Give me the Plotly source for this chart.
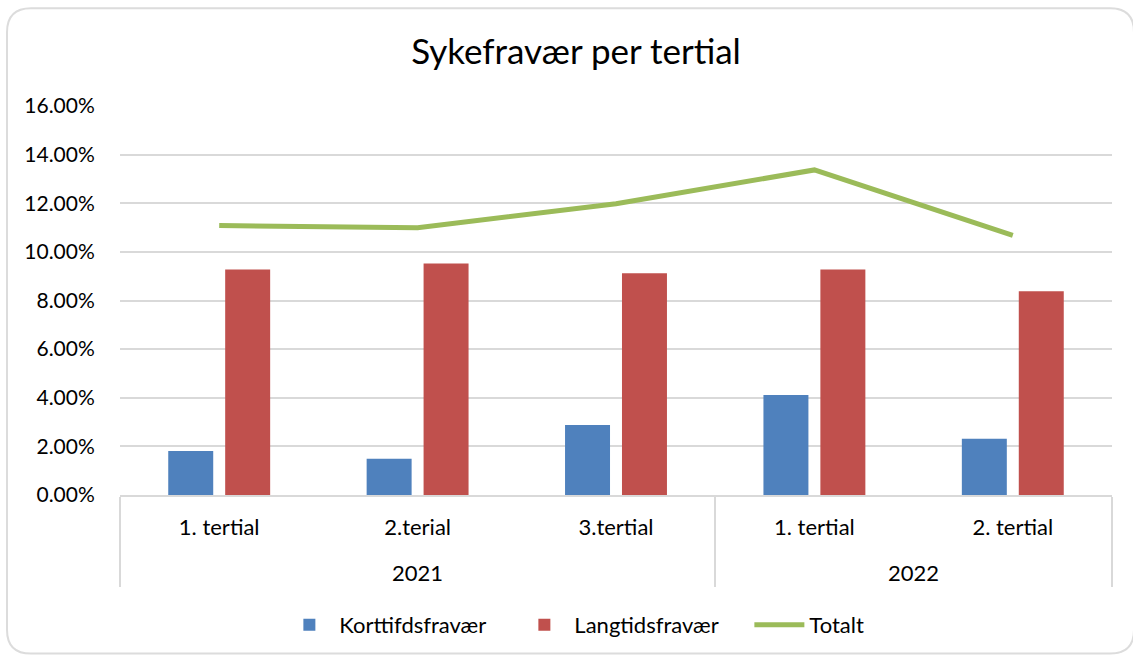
import plotly.graph_objects as go

years = ["2021", "2021", "2021", "2022", "2022"]
tertials = ["1. tertial", "2.terial", "3.tertial", "1. tertial", "2. tertial"]
korttid = [0.0181, 0.0149, 0.0288, 0.0411, 0.0231]
langtid = [0.0928, 0.0952, 0.0912, 0.0928, 0.0838]
totalt = [0.1108, 0.1099, 0.1198, 0.1337, 0.1068]

# year labels with a leading break so the outer level sits lower, as in the original
year_labels = ["<br>" + y for y in years]

W, H = 1133, 657
L, R, T, B = 120, 21, 106, 161
PW, PH = W - L - R, H - T - B

def px(x):
    return (x - L) / PW

def py(y):
    return (H - B - y) / PH

FONT = "Lato, 'Open Sans', sans-serif"

fig = go.Figure()
fig.add_trace(go.Bar(x=[year_labels, tertials], y=korttid, name="Korttifdsfravær",
                     marker=dict(color="#4f81bd", line=dict(width=0))))
fig.add_trace(go.Bar(x=[year_labels, tertials], y=langtid, name="Langtidsfravær",
                     marker=dict(color="#c0504d", line=dict(width=0))))
fig.add_trace(go.Scatter(x=[year_labels, tertials], y=totalt, name="Totalt", mode="lines",
                         line=dict(color="#9bbb59", width=5)))

# rounded frame
x0, x1, y0, y1 = px(7), px(1134), py(655), py(8)
rx, ry = 24 / PW, 24 / PH
path = (f"M {x0+rx},{y1} L {x1-rx},{y1} Q {x1},{y1} {x1},{y1-ry} L {x1},{y0+ry} "
        f"Q {x1},{y0} {x1-rx},{y0} L {x0+rx},{y0} Q {x0},{y0} {x0},{y0+ry} "
        f"L {x0},{y1-ry} Q {x0},{y1} {x0+rx},{y1} Z")
fig.add_shape(type="path", path=path, xref="paper", yref="paper",
              line=dict(color="#dcdcdc", width=2), fillcolor="rgba(0,0,0,0)", layer="below")

fig.update_layout(
    width=W, height=H,
    margin=dict(l=L, r=R, t=T, b=B),
    paper_bgcolor="white", plot_bgcolor="white",
    font=dict(family=FONT, size=22, color="#000000"),
    title=dict(text="Sykefravær per tertial", x=576 / W, xanchor="center",
               y=1 - 52 / H, yanchor="middle", font=dict(size=35, family=FONT, color="#000000")),
    barmode="group", bargap=0.426, bargroupgap=0.21,
    legend=dict(orientation="h", x=0.516, xanchor="center", y=py(625), yanchor="middle",
                font=dict(size=22), itemwidth=50, traceorder="normal",
                entrywidth=170, entrywidthmode="pixels"),
    showlegend=True,
)
fig.update_yaxes(range=[0, 0.16], dtick=0.02, tickformat=".2%", showgrid=True,
                 gridcolor="#d9d9d9", gridwidth=1.5, zeroline=False, showline=False,
                 ticks="outside", ticklen=20, tickcolor="rgba(0,0,0,0)",
                 tickfont=dict(size=21, family=FONT))
fig.update_xaxes(type="multicategory", showline=True, linecolor="#d9d9d9", linewidth=1.5,
                 showdividers=True, dividercolor="#d9d9d9", dividerwidth=1.5,
                 tickfont=dict(size=22, family=FONT), ticks="", ticklabelstandoff=12)

fig.write_html("out.html", config={"displayModeBar": False},
               post_script="document.body.style.margin='0';")
